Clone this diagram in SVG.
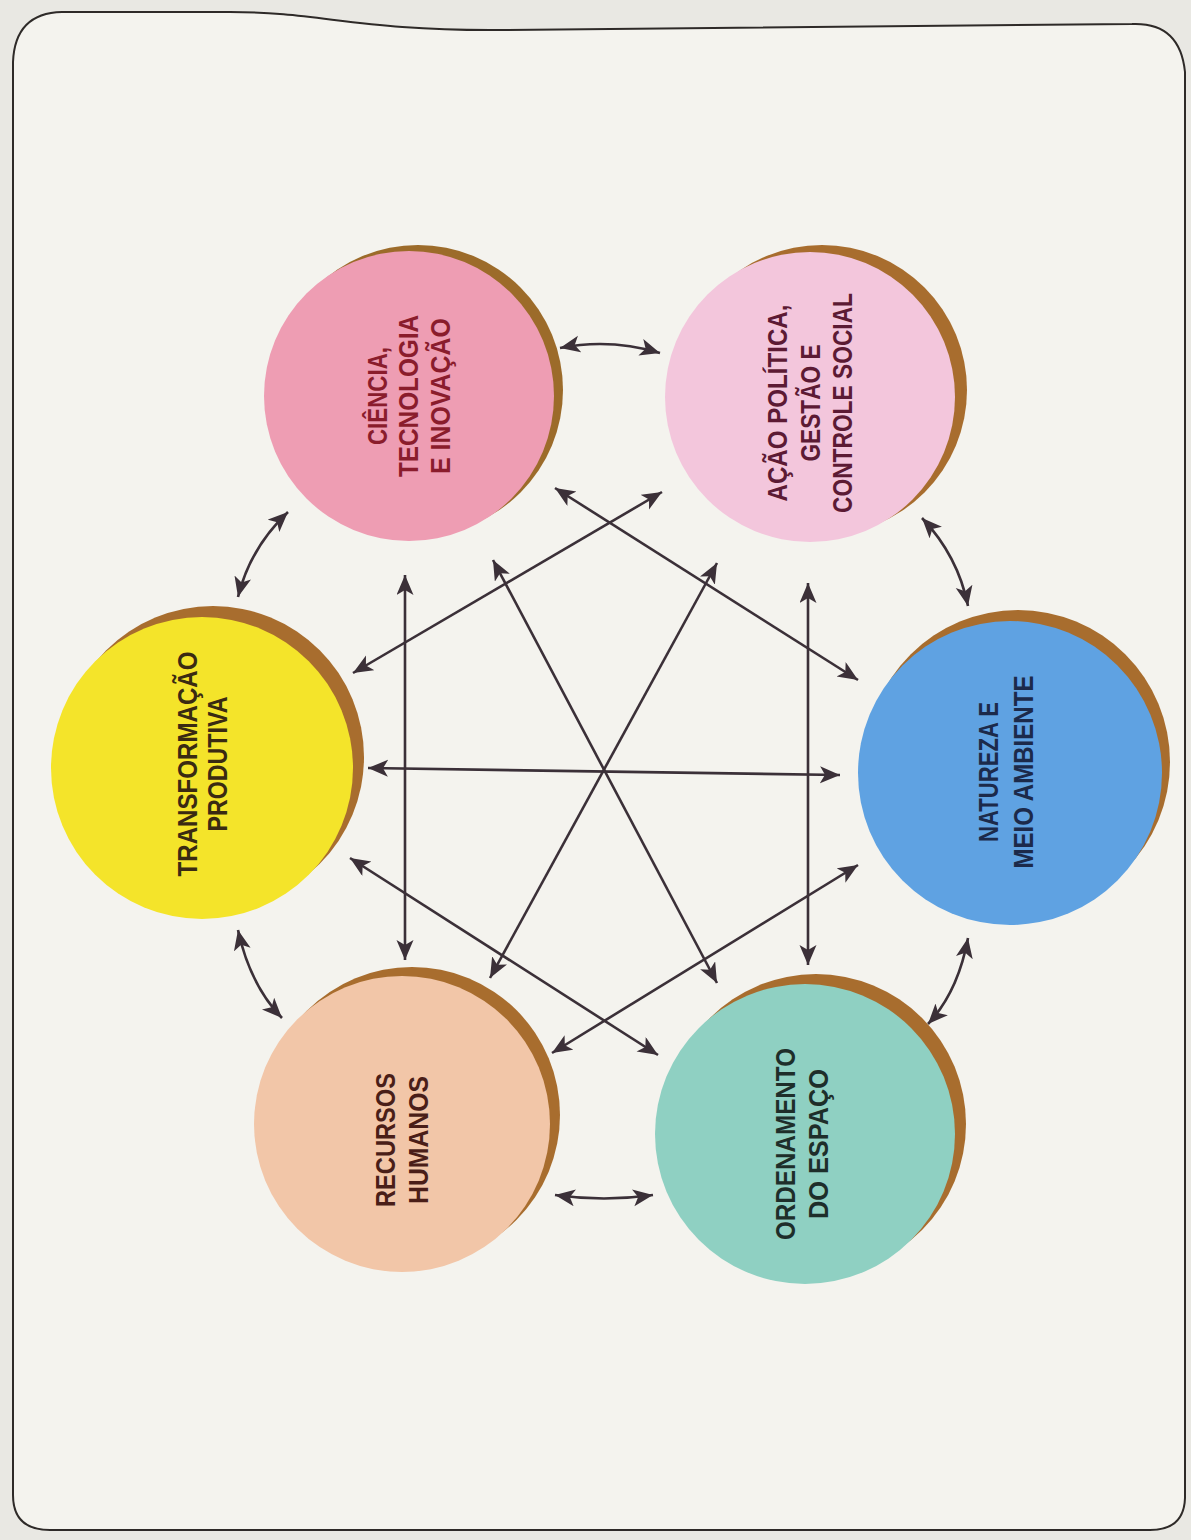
<svg xmlns="http://www.w3.org/2000/svg" width="1191" height="1540" viewBox="0 0 1191 1540">
<style>
.shadow{fill:#a86d2e}
.lbl{font-family:"Liberation Sans","Arial",sans-serif;font-size:27px;font-weight:bold;text-anchor:middle}
.con{fill:none;stroke:#3b3038;stroke-width:2.6;marker-start:url(#ah);marker-end:url(#ah)}
</style>
<defs>
<marker id="ah" markerUnits="userSpaceOnUse" markerWidth="24" markerHeight="20" refX="20" refY="8.5" orient="auto-start-reverse">
<path d="M0,0 L20,8.5 L0,17 L5,8.5 z" fill="#3b3038"/>
</marker>
</defs>
<rect x="0" y="0" width="1191" height="1540" fill="#e9e8e3"/>
<path d="M13,1495 L13,62 Q15,13 62,12 L230,12 C320,12 360,31 500,30 L1132,24 Q1180,22 1185,72 L1185,1498 Q1184,1530 1150,1530 L50,1530 Q13,1530 13,1495 Z" fill="#f4f3ee" stroke="#2e2a28" stroke-width="2"/>

<g id="ciencia">
<circle class="shadow" cx="418" cy="390" r="145" style="fill:#9c6b2a"/>
<circle cx="409" cy="396" r="145" fill="#ee9db3"/>
<text class="lbl" fill="#8a1c2c" transform="translate(0,396) rotate(-90)"><tspan x="0" y="387" textLength="98" lengthAdjust="spacingAndGlyphs">CIÊNCIA,</tspan><tspan x="0" y="418" textLength="162" lengthAdjust="spacingAndGlyphs">TECNOLOGIA</tspan><tspan x="0" y="450" textLength="156" lengthAdjust="spacingAndGlyphs">E INOVAÇÃO</tspan></text>
</g>

<g id="acao">
<circle class="shadow" cx="822" cy="390" r="145"/>
<circle cx="810" cy="397" r="145" fill="#f3c6dc"/>
<text class="lbl" fill="#5c1a34" transform="translate(0,403) rotate(-90)"><tspan x="0" y="787" textLength="197" lengthAdjust="spacingAndGlyphs">AÇÃO POLÍTICA,</tspan><tspan x="0" y="820" textLength="117" lengthAdjust="spacingAndGlyphs">GESTÃO E</tspan><tspan x="0" y="852" textLength="220" lengthAdjust="spacingAndGlyphs">CONTROLE SOCIAL</tspan></text>
</g>

<g id="transformacao">
<circle class="shadow" cx="213" cy="757" r="151"/>
<circle cx="202" cy="768" r="151" fill="#f4e42a"/>
<text class="lbl" fill="#3a2a12" transform="translate(0,764) rotate(-90)"><tspan x="0" y="197" textLength="225" lengthAdjust="spacingAndGlyphs">TRANSFORMAÇÃO</tspan><tspan x="0" y="227" textLength="135" lengthAdjust="spacingAndGlyphs">PRODUTIVA</tspan></text>
</g>

<g id="natureza">
<circle class="shadow" cx="1018" cy="762" r="152"/>
<circle cx="1010" cy="773" r="152" fill="#5fa2e2"/>
<text class="lbl" fill="#1c2a4a" transform="translate(0,772) rotate(-90)"><tspan x="0" y="998" textLength="140" lengthAdjust="spacingAndGlyphs">NATUREZA E</tspan><tspan x="0" y="1033" textLength="193" lengthAdjust="spacingAndGlyphs">MEIO AMBIENTE</tspan></text>
</g>

<g id="recursos">
<circle class="shadow" cx="412" cy="1115" r="148"/>
<circle cx="402" cy="1124" r="148" fill="#f2c6a8"/>
<text class="lbl" fill="#4a1e18" transform="translate(0,1140) rotate(-90)"><tspan x="0" y="395" textLength="134" lengthAdjust="spacingAndGlyphs">RECURSOS</tspan><tspan x="0" y="428" textLength="128" lengthAdjust="spacingAndGlyphs">HUMANOS</tspan></text>
</g>

<g id="ordenamento">
<circle class="shadow" cx="816" cy="1124" r="150"/>
<circle cx="805" cy="1134" r="150" fill="#8fd0c2"/>
<text class="lbl" fill="#1e2e2a" transform="translate(0,1144) rotate(-90)"><tspan x="0" y="795" textLength="192" lengthAdjust="spacingAndGlyphs">ORDENAMENTO</tspan><tspan x="0" y="828" textLength="150" lengthAdjust="spacingAndGlyphs">DO ESPAÇO</tspan></text>
</g>

<g id="connectors">
<path class="con" d="M560,348 Q610,338 660,353"/>
<path class="con" d="M555,1195 Q604,1202 653,1195"/>
<path class="con" d="M288,512 Q250,548 238,597"/>
<path class="con" d="M922,518 Q958,556 968,606"/>
<path class="con" d="M238,930 Q250,985 282,1018"/>
<path class="con" d="M968,938 Q958,992 928,1024"/>
<path class="con" d="M405,575 L405,960"/>
<path class="con" d="M808,583 L808,965"/>
<path class="con" d="M368,768 L840,775"/>
<path class="con" d="M353,673 L662,492"/>
<path class="con" d="M555,488 L858,680"/>
<path class="con" d="M350,858 L658,1055"/>
<path class="con" d="M858,865 L552,1053"/>
<path class="con" d="M493,560 L717,983"/>
<path class="con" d="M717,563 L490,978"/>
</g>
</svg>
